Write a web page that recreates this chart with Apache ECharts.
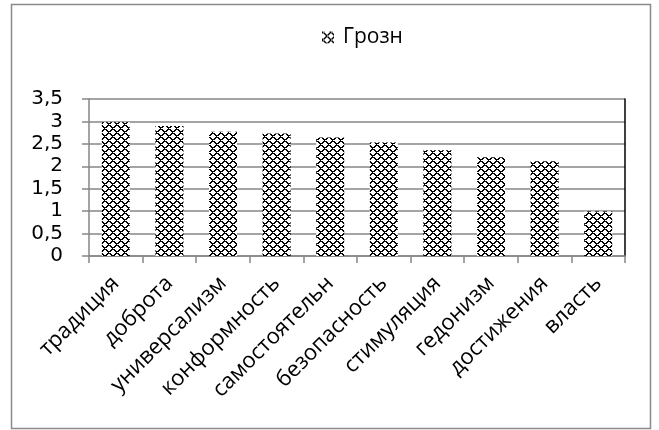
<!DOCTYPE html>
<html><head><meta charset="utf-8">
<script src="https://cdn.jsdelivr.net/npm/echarts@6/dist/echarts.min.js"></script>
<style>html,body{margin:0;padding:0;background:#fff}#c{width:659px;height:430px}</style>
</head><body><div id="c"></div>
<script>
const categories = ['традиция','доброта','универсализм','конформность','самостоятельн','безопасность','стимуляция','гедонизм','достижения','власть'];
const seriesName = 'Грозн';
const values = [2.98, 2.9, 2.77, 2.73, 2.64, 2.53, 2.36, 2.2, 2.11, 0.99];
const yTicks = {min: 0, max: 3.5, interval: 0.5};

function makePattern(){
  const c = document.createElement('canvas');
  c.width = 8; c.height = 8;
  const ctx = c.getContext('2d');
  ctx.fillStyle = '#fff'; ctx.fillRect(0,0,8,8);
  ctx.fillStyle = '#000';
  for (let y=0;y<8;y++) for (let x=0;x<8;x++){
    const a = (x+y)%8, b = (x-y+8)%8;
    if (a===0 || a===1 || b===0 || b===1) { if(!((a===1)&&(b===1))) ctx.fillRect(x,y,1,1); }
  }
  return c;
}
const pat = {image: makePattern(), repeat: 'repeat'};
const font = 'Open Sans';
const chart = echarts.init(document.getElementById('c'));
chart.setOption({
  animation: false,
  backgroundColor: '#fff',
  textStyle: {fontFamily: font},
  graphic: [{type:'rect', shape:{x:11.5,y:4.5,width:639,height:424}, style:{fill:'none', stroke:'#8a8a8a', lineWidth:1.5}, z:-1}],
  legend: {top: 22, left: 317, icon: 'rect', itemWidth: 12, itemHeight: 12, itemGap: 6,
    data:[seriesName], textStyle:{fontFamily: font, fontSize: 21, color:'#000', padding:[0,0,0,4]}},
  grid: {left: 89, right: 34, top: 99, bottom: 174, containLabel: false},
  xAxis: {type:'category', data: categories,
    axisLine:{lineStyle:{color:'#868686', width:1.5}},
    axisTick:{show:true, alignWithLabel:false, length:7, lineStyle:{color:'#868686', width:1.5}},
    axisLabel:{rotate:45, interval:0, fontSize:22, color:'#000', fontFamily: font, margin: 24}},
  yAxis: [{type:'value', min: yTicks.min, max: yTicks.max, interval: yTicks.interval,
    axisLine:{show:true, lineStyle:{color:'#868686', width:1.5}},
    axisTick:{show:true, length:7, lineStyle:{color:'#868686', width:1.5}},
    splitLine:{lineStyle:{color:'#868686', width:1.5}},
    axisLabel:{fontSize:20, color:'#000', fontFamily: 'DejaVu Sans', margin: 26, lineHeight: 20, formatter: v => String(v).replace('.', ',')}},
    {type:'value', position:'right', min: yTicks.min, max: yTicks.max, interval: yTicks.interval,
    axisLine:{show:true, lineStyle:{color:'#000', width:1.5}}, axisTick:{show:false}, axisLabel:{show:false}, splitLine:{show:false}}],
  series: [{name: seriesName, type:'bar', data: values, barWidth: 28,
    itemStyle:{color: pat}}]
});
</script></body></html>
